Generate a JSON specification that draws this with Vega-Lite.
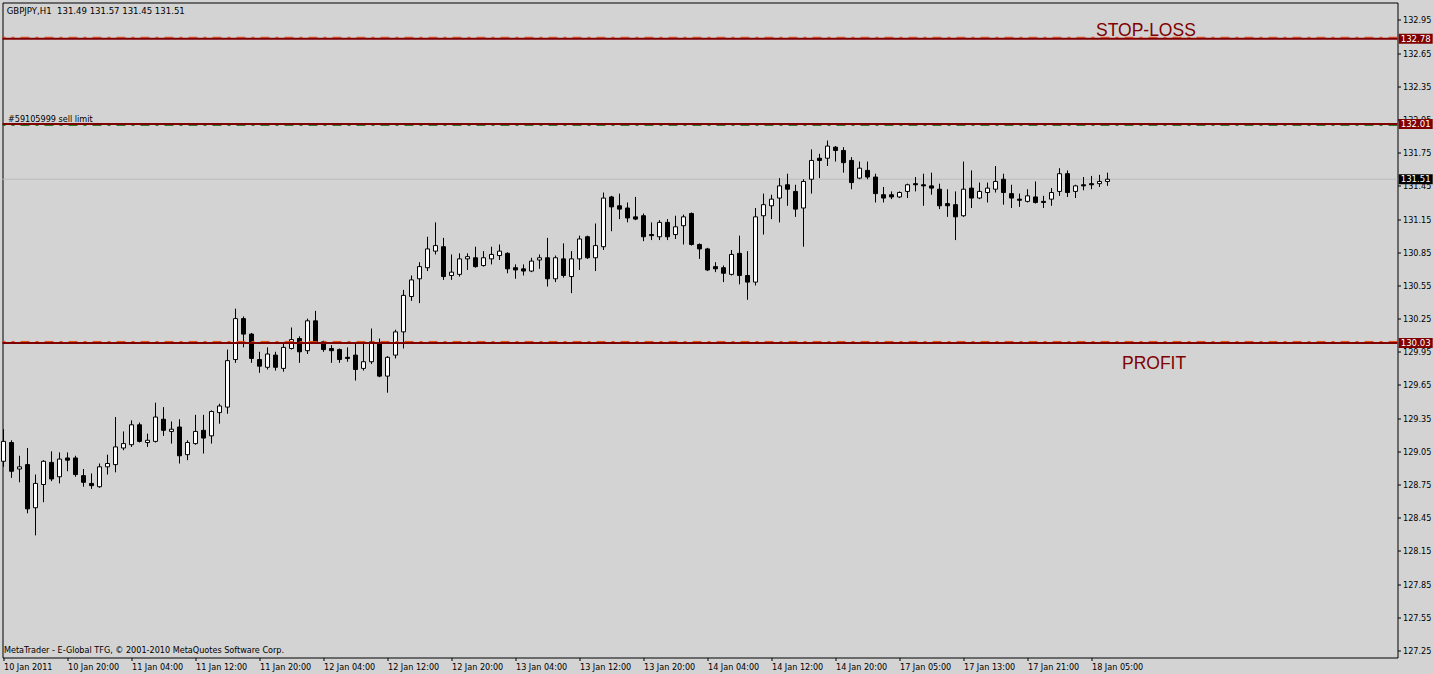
{
  "$schema": "https://vega.github.io/schema/vega-lite/v6.json",
  "autosize": "none",
  "width": 1395,
  "height": 655,
  "padding": {"left": 2.5, "top": 2.5, "right": 36.5, "bottom": 16.5},
  "background": "#d3d3d3",
  "config": {
    "view": {"stroke": "black", "strokeWidth": 1, "fill": "#d3d3d3"},
    "font": "DejaVu Sans Condensed, DejaVu Sans, sans-serif",
    "scale": {"continuousPadding": 0}
  },
  "resolve": {"axis": {"x": "independent", "y": "independent"}},
  "datasets": {
    "candles": [
      {"bar":0,"o":128.96,"h":129.25,"l":128.91,"c":129.14},
      {"bar":1,"o":129.13,"h":129.15,"l":128.81,"c":128.87},
      {"bar":2,"o":128.89,"h":129.01,"l":128.77,"c":128.91},
      {"bar":3,"o":128.93,"h":129.08,"l":128.49,"c":128.53},
      {"bar":4,"o":128.54,"h":128.84,"l":128.29,"c":128.76},
      {"bar":5,"o":128.75,"h":128.97,"l":128.59,"c":128.96},
      {"bar":6,"o":128.95,"h":129.05,"l":128.78,"c":128.80},
      {"bar":7,"o":128.82,"h":129.04,"l":128.76,"c":128.98},
      {"bar":8,"o":128.99,"h":129.04,"l":128.87,"c":128.97},
      {"bar":9,"o":128.99,"h":129.01,"l":128.82,"c":128.84},
      {"bar":10,"o":128.83,"h":128.89,"l":128.73,"c":128.77},
      {"bar":11,"o":128.76,"h":128.85,"l":128.71,"c":128.74},
      {"bar":12,"o":128.73,"h":128.94,"l":128.72,"c":128.91},
      {"bar":13,"o":128.91,"h":129.02,"l":128.84,"c":128.94},
      {"bar":14,"o":128.93,"h":129.36,"l":128.86,"c":129.09},
      {"bar":15,"o":129.08,"h":129.23,"l":129.06,"c":129.12},
      {"bar":16,"o":129.11,"h":129.33,"l":129.09,"c":129.29},
      {"bar":17,"o":129.29,"h":129.31,"l":129.13,"c":129.14},
      {"bar":18,"o":129.13,"h":129.21,"l":129.09,"c":129.15},
      {"bar":19,"o":129.14,"h":129.49,"l":129.13,"c":129.36},
      {"bar":20,"o":129.34,"h":129.45,"l":129.19,"c":129.24},
      {"bar":21,"o":129.23,"h":129.32,"l":129.12,"c":129.25},
      {"bar":22,"o":129.27,"h":129.34,"l":128.94,"c":129.01},
      {"bar":23,"o":129.02,"h":129.15,"l":128.97,"c":129.13},
      {"bar":24,"o":129.12,"h":129.38,"l":129.11,"c":129.23},
      {"bar":25,"o":129.24,"h":129.38,"l":129.03,"c":129.17},
      {"bar":26,"o":129.19,"h":129.42,"l":129.12,"c":129.41},
      {"bar":27,"o":129.40,"h":129.48,"l":129.30,"c":129.46},
      {"bar":28,"o":129.45,"h":129.97,"l":129.39,"c":129.87},
      {"bar":29,"o":129.88,"h":130.34,"l":129.85,"c":130.25},
      {"bar":30,"o":130.25,"h":130.27,"l":129.99,"c":130.11},
      {"bar":31,"o":130.11,"h":130.12,"l":129.85,"c":129.89},
      {"bar":32,"o":129.88,"h":129.95,"l":129.76,"c":129.82},
      {"bar":33,"o":129.81,"h":129.99,"l":129.79,"c":129.93},
      {"bar":34,"o":129.92,"h":129.95,"l":129.78,"c":129.81},
      {"bar":35,"o":129.80,"h":130.03,"l":129.77,"c":129.99},
      {"bar":36,"o":129.98,"h":130.17,"l":129.97,"c":130.06},
      {"bar":37,"o":130.07,"h":130.09,"l":129.85,"c":129.95},
      {"bar":38,"o":129.96,"h":130.25,"l":129.93,"c":130.23},
      {"bar":39,"o":130.23,"h":130.32,"l":130.03,"c":130.04},
      {"bar":40,"o":130.04,"h":130.05,"l":129.95,"c":129.97},
      {"bar":41,"o":129.98,"h":130.01,"l":129.85,"c":129.96},
      {"bar":42,"o":129.97,"h":129.98,"l":129.85,"c":129.88},
      {"bar":43,"o":129.90,"h":129.99,"l":129.86,"c":129.89},
      {"bar":44,"o":129.92,"h":130.03,"l":129.69,"c":129.79},
      {"bar":45,"o":129.80,"h":130.03,"l":129.78,"c":129.86},
      {"bar":46,"o":129.86,"h":130.16,"l":129.84,"c":130.04},
      {"bar":47,"o":130.03,"h":130.07,"l":129.72,"c":129.73},
      {"bar":48,"o":129.73,"h":129.91,"l":129.58,"c":129.90},
      {"bar":49,"o":129.92,"h":130.15,"l":129.89,"c":130.13},
      {"bar":50,"o":130.13,"h":130.51,"l":129.98,"c":130.46},
      {"bar":51,"o":130.45,"h":130.64,"l":130.41,"c":130.60},
      {"bar":52,"o":130.61,"h":130.76,"l":130.39,"c":130.72},
      {"bar":53,"o":130.71,"h":130.99,"l":130.68,"c":130.88},
      {"bar":54,"o":130.86,"h":131.12,"l":130.83,"c":130.91},
      {"bar":55,"o":130.90,"h":130.98,"l":130.60,"c":130.63},
      {"bar":56,"o":130.64,"h":130.83,"l":130.60,"c":130.67},
      {"bar":57,"o":130.65,"h":130.84,"l":130.63,"c":130.79},
      {"bar":58,"o":130.79,"h":130.84,"l":130.69,"c":130.81},
      {"bar":59,"o":130.80,"h":130.90,"l":130.71,"c":130.72},
      {"bar":60,"o":130.73,"h":130.86,"l":130.72,"c":130.80},
      {"bar":61,"o":130.79,"h":130.90,"l":130.74,"c":130.83},
      {"bar":62,"o":130.82,"h":130.92,"l":130.78,"c":130.86},
      {"bar":63,"o":130.84,"h":130.85,"l":130.66,"c":130.70},
      {"bar":64,"o":130.71,"h":130.74,"l":130.61,"c":130.69},
      {"bar":65,"o":130.70,"h":130.74,"l":130.64,"c":130.68},
      {"bar":66,"o":130.68,"h":130.80,"l":130.67,"c":130.77},
      {"bar":67,"o":130.78,"h":130.83,"l":130.70,"c":130.80},
      {"bar":68,"o":130.80,"h":130.98,"l":130.54,"c":130.61},
      {"bar":69,"o":130.61,"h":130.82,"l":130.58,"c":130.80},
      {"bar":70,"o":130.79,"h":130.93,"l":130.62,"c":130.64},
      {"bar":71,"o":130.63,"h":130.86,"l":130.48,"c":130.79},
      {"bar":72,"o":130.79,"h":131.00,"l":130.69,"c":130.97},
      {"bar":73,"o":130.99,"h":131.00,"l":130.79,"c":130.80},
      {"bar":74,"o":130.80,"h":131.11,"l":130.68,"c":130.91},
      {"bar":75,"o":130.90,"h":131.39,"l":130.87,"c":131.34},
      {"bar":76,"o":131.35,"h":131.36,"l":131.04,"c":131.26},
      {"bar":77,"o":131.27,"h":131.38,"l":131.15,"c":131.24},
      {"bar":78,"o":131.25,"h":131.30,"l":131.12,"c":131.16},
      {"bar":79,"o":131.17,"h":131.35,"l":131.14,"c":131.15},
      {"bar":80,"o":131.18,"h":131.20,"l":130.95,"c":130.99},
      {"bar":81,"o":131.01,"h":131.12,"l":130.96,"c":131.00},
      {"bar":82,"o":130.99,"h":131.14,"l":130.96,"c":131.12},
      {"bar":83,"o":131.12,"h":131.15,"l":130.96,"c":130.99},
      {"bar":84,"o":131.01,"h":131.18,"l":130.97,"c":131.08},
      {"bar":85,"o":131.09,"h":131.19,"l":130.92,"c":131.17},
      {"bar":86,"o":131.20,"h":131.21,"l":130.91,"c":130.92},
      {"bar":87,"o":130.92,"h":130.93,"l":130.79,"c":130.88},
      {"bar":88,"o":130.88,"h":130.89,"l":130.68,"c":130.69},
      {"bar":89,"o":130.72,"h":130.76,"l":130.67,"c":130.70},
      {"bar":90,"o":130.71,"h":130.73,"l":130.58,"c":130.66},
      {"bar":91,"o":130.65,"h":130.87,"l":130.64,"c":130.83},
      {"bar":92,"o":130.84,"h":131.00,"l":130.56,"c":130.64},
      {"bar":93,"o":130.64,"h":130.86,"l":130.42,"c":130.58},
      {"bar":94,"o":130.58,"h":131.25,"l":130.55,"c":131.17},
      {"bar":95,"o":131.18,"h":131.38,"l":131.01,"c":131.28},
      {"bar":96,"o":131.27,"h":131.37,"l":131.15,"c":131.33},
      {"bar":97,"o":131.34,"h":131.52,"l":131.12,"c":131.45},
      {"bar":98,"o":131.46,"h":131.56,"l":131.27,"c":131.42},
      {"bar":99,"o":131.40,"h":131.46,"l":131.17,"c":131.24},
      {"bar":100,"o":131.25,"h":131.51,"l":130.90,"c":131.49},
      {"bar":101,"o":131.51,"h":131.78,"l":131.38,"c":131.68},
      {"bar":102,"o":131.70,"h":131.74,"l":131.52,"c":131.68},
      {"bar":103,"o":131.70,"h":131.86,"l":131.63,"c":131.81},
      {"bar":104,"o":131.80,"h":131.81,"l":131.67,"c":131.77},
      {"bar":105,"o":131.77,"h":131.80,"l":131.57,"c":131.66},
      {"bar":106,"o":131.68,"h":131.71,"l":131.42,"c":131.48},
      {"bar":107,"o":131.52,"h":131.67,"l":131.51,"c":131.61},
      {"bar":108,"o":131.59,"h":131.67,"l":131.51,"c":131.53},
      {"bar":109,"o":131.53,"h":131.56,"l":131.30,"c":131.38},
      {"bar":110,"o":131.37,"h":131.44,"l":131.30,"c":131.34},
      {"bar":111,"o":131.37,"h":131.40,"l":131.33,"c":131.35},
      {"bar":112,"o":131.35,"h":131.40,"l":131.34,"c":131.39},
      {"bar":113,"o":131.40,"h":131.47,"l":131.34,"c":131.46},
      {"bar":114,"o":131.47,"h":131.53,"l":131.40,"c":131.46},
      {"bar":115,"o":131.46,"h":131.56,"l":131.27,"c":131.45},
      {"bar":116,"o":131.45,"h":131.57,"l":131.37,"c":131.43},
      {"bar":117,"o":131.42,"h":131.47,"l":131.24,"c":131.27},
      {"bar":118,"o":131.29,"h":131.42,"l":131.17,"c":131.27},
      {"bar":119,"o":131.28,"h":131.40,"l":130.96,"c":131.17},
      {"bar":120,"o":131.18,"h":131.67,"l":131.17,"c":131.42},
      {"bar":121,"o":131.43,"h":131.59,"l":131.25,"c":131.34},
      {"bar":122,"o":131.34,"h":131.48,"l":131.33,"c":131.40},
      {"bar":123,"o":131.39,"h":131.48,"l":131.30,"c":131.43},
      {"bar":124,"o":131.42,"h":131.63,"l":131.39,"c":131.49},
      {"bar":125,"o":131.51,"h":131.56,"l":131.28,"c":131.39},
      {"bar":126,"o":131.38,"h":131.46,"l":131.25,"c":131.34},
      {"bar":127,"o":131.33,"h":131.38,"l":131.26,"c":131.32},
      {"bar":128,"o":131.31,"h":131.42,"l":131.30,"c":131.36},
      {"bar":129,"o":131.35,"h":131.49,"l":131.29,"c":131.30},
      {"bar":130,"o":131.31,"h":131.36,"l":131.25,"c":131.30},
      {"bar":131,"o":131.33,"h":131.43,"l":131.27,"c":131.39},
      {"bar":132,"o":131.40,"h":131.61,"l":131.36,"c":131.56},
      {"bar":133,"o":131.56,"h":131.59,"l":131.35,"c":131.39},
      {"bar":134,"o":131.40,"h":131.46,"l":131.34,"c":131.45},
      {"bar":135,"o":131.46,"h":131.53,"l":131.41,"c":131.45},
      {"bar":136,"o":131.47,"h":131.54,"l":131.42,"c":131.46},
      {"bar":137,"o":131.47,"h":131.55,"l":131.44,"c":131.49},
      {"bar":138,"o":131.49,"h":131.57,"l":131.45,"c":131.51}
    ],
    "levels": [
      {"price": 132.78, "kind": "stop", "label": "STOP-LOSS"},
      {"price": 132.01, "kind": "order", "label": "#59105999 sell limit"},
      {"price": 130.03, "kind": "profit", "label": "PROFIT"}
    ],
    "notes": [
      {"kind": "header", "label": "GBPJPY,H1\u00a0 131.49 131.57 131.45 131.51"},
      {"kind": "credit", "label": "MetaTrader - E-Global TFG, © 2001-2010 MetaQuotes Software Corp."}
    ]
  },
  "layer": [
    {
      "data": {"name": "candles"},
      "transform": [{"filter": "datum.bar == 138"}],
      "mark": {"type": "rule", "color": "#bcbcbc", "strokeWidth": 1},
      "encoding": {
        "y": {"field": "c", "type": "quantitative", "scale": {"domain": [127.186, 133.108], "nice": false, "zero": false, "padding": 0}, "axis": null}
      }
    },
    {
      "data": {"name": "candles"},
      "mark": {"type": "rule", "color": "black", "strokeWidth": 1},
      "encoding": {
        "x": {"field": "bar", "type": "quantitative", "scale": {"domain": [-0.125, 174.25], "nice": false, "zero": false, "padding": 0}, "axis": null},
        "y": {"field": "l", "type": "quantitative", "scale": {"domain": [127.186, 133.108], "nice": false, "zero": false, "padding": 0}, "axis": null},
        "y2": {"field": "h"}
      }
    },
    {
      "data": {"name": "candles"},
      "mark": {"type": "bar", "size": 4, "stroke": "black", "strokeWidth": 1, "opacity": 1},
      "encoding": {
        "x": {"field": "bar", "type": "quantitative", "scale": {"domain": [-0.125, 174.25], "nice": false, "zero": false, "padding": 0},
          "axis": {"orient": "bottom", "values": [0,8,16,24,32,40,48,56,64,72,80,88,96,104,112,120,128,136],
            "labelExpr": "['10 Jan 2011','10 Jan 20:00','11 Jan 04:00','11 Jan 12:00','11 Jan 20:00','12 Jan 04:00','12 Jan 12:00','12 Jan 20:00','13 Jan 04:00','13 Jan 12:00','13 Jan 20:00','14 Jan 04:00','14 Jan 12:00','14 Jan 20:00','17 Jan 05:00','17 Jan 13:00','17 Jan 21:00','18 Jan 05:00'][round(datum.value/8)]",
            "title": null, "grid": false, "domain": false, "ticks": true, "tickSize": 3, "tickColor": "black", "tickWidth": 1,
            "labelAlign": "left", "labelBaseline": "alphabetic", "labelPadding": 8.5,
            "labelFont": "DejaVu Sans Condensed, DejaVu Sans, sans-serif", "labelFontSize": 9, "labelColor": "black",
            "labelOverlap": false, "labelFlush": false, "labelBound": false}},
        "y": {"field": "o", "type": "quantitative", "scale": {"domain": [127.186, 133.108], "nice": false, "zero": false, "padding": 0},
          "axis": {"orient": "right", "values": [127.25,127.55,127.85,128.15,128.45,128.75,129.05,129.35,129.65,129.95,130.25,130.55,130.85,131.15,131.45,131.75,132.05,132.35,132.65,132.95],
            "format": ".2f", "title": null, "grid": false, "domain": false, "ticks": true, "tickSize": 3, "tickColor": "black", "tickWidth": 1,
            "labelAlign": "left", "labelBaseline": "middle", "labelPadding": 2,
            "labelFont": "DejaVu Sans Condensed, DejaVu Sans, sans-serif", "labelFontSize": 9, "labelColor": "black",
            "labelOverlap": false, "labelBound": false}},
        "y2": {"field": "c"},
        "fill": {"condition": {"test": "datum.c > datum.o", "value": "white"}, "value": "black"}
      }
    },
    {
      "data": {"name": "levels"},
      "transform": [{"filter": "datum.kind != 'order'"}],
      "mark": {"type": "rule", "color": "#e8440c", "strokeWidth": 1, "strokeDash": [9, 6, 3, 6], "yOffset": -1.5},
      "encoding": {
        "y": {"field": "price", "type": "quantitative", "scale": {"domain": [127.186, 133.108], "nice": false, "zero": false, "padding": 0}, "axis": null}
      }
    },
    {
      "data": {"name": "levels"},
      "transform": [{"filter": "datum.kind == 'order'"}],
      "mark": {"type": "rule", "color": "#1a7a1a", "strokeWidth": 1, "strokeDash": [9, 6, 3, 6], "yOffset": 1.5},
      "encoding": {
        "y": {"field": "price", "type": "quantitative", "scale": {"domain": [127.186, 133.108], "nice": false, "zero": false, "padding": 0}, "axis": null}
      }
    },
    {
      "data": {"name": "levels"},
      "mark": {"type": "rule", "color": "#800000", "strokeWidth": 2},
      "encoding": {
        "y": {"field": "price", "type": "quantitative", "scale": {"domain": [127.186, 133.108], "nice": false, "zero": false, "padding": 0}, "axis": null}
      }
    },
    {
      "data": {"name": "levels"},
      "transform": [{"filter": "datum.kind == 'stop'"}],
      "mark": {"type": "text", "font": "Liberation Sans", "fontSize": 17.5, "color": "#800000", "align": "left", "baseline": "alphabetic", "dy": -3},
      "encoding": {
        "x": {"datum": 136.56, "type": "quantitative", "scale": {"domain": [-0.125, 174.25], "nice": false, "zero": false, "padding": 0}, "axis": null},
        "y": {"field": "price", "type": "quantitative", "scale": {"domain": [127.186, 133.108], "nice": false, "zero": false, "padding": 0}, "axis": null},
        "text": {"field": "label"}
      }
    },
    {
      "data": {"name": "levels"},
      "transform": [{"filter": "datum.kind == 'profit'"}],
      "mark": {"type": "text", "font": "Liberation Sans", "fontSize": 17.5, "color": "#800000", "align": "left", "baseline": "alphabetic", "dy": 26.5},
      "encoding": {
        "x": {"datum": 139.81, "type": "quantitative", "scale": {"domain": [-0.125, 174.25], "nice": false, "zero": false, "padding": 0}, "axis": null},
        "y": {"field": "price", "type": "quantitative", "scale": {"domain": [127.186, 133.108], "nice": false, "zero": false, "padding": 0}, "axis": null},
        "text": {"field": "label"}
      }
    },
    {
      "data": {"name": "levels"},
      "transform": [{"filter": "datum.kind == 'order'"}],
      "mark": {"type": "text", "fontSize": 9, "color": "black", "align": "left", "baseline": "alphabetic", "dy": -2},
      "encoding": {
        "x": {"datum": 0.56, "type": "quantitative", "scale": {"domain": [-0.125, 174.25], "nice": false, "zero": false, "padding": 0}, "axis": null},
        "y": {"field": "price", "type": "quantitative", "scale": {"domain": [127.186, 133.108], "nice": false, "zero": false, "padding": 0}, "axis": null},
        "text": {"field": "label"}
      }
    },
    {
      "data": {"name": "notes"},
      "transform": [{"filter": "datum.kind == 'header'"}],
      "mark": {"type": "text", "fontSize": 9.5, "color": "black", "align": "left", "baseline": "alphabetic"},
      "encoding": {
        "x": {"datum": 0.4, "type": "quantitative", "scale": {"domain": [-0.125, 174.25], "nice": false, "zero": false, "padding": 0}, "axis": null},
        "y": {"datum": 133.004, "type": "quantitative", "scale": {"domain": [127.186, 133.108], "nice": false, "zero": false, "padding": 0}, "axis": null},
        "text": {"field": "label"}
      }
    },
    {
      "data": {"name": "notes"},
      "transform": [{"filter": "datum.kind == 'credit'"}],
      "mark": {"type": "text", "fontSize": 9, "color": "black", "align": "left", "baseline": "alphabetic"},
      "encoding": {
        "x": {"datum": 0.06, "type": "quantitative", "scale": {"domain": [-0.125, 174.25], "nice": false, "zero": false, "padding": 0}, "axis": null},
        "y": {"datum": 127.227, "type": "quantitative", "scale": {"domain": [127.186, 133.108], "nice": false, "zero": false, "padding": 0}, "axis": null},
        "text": {"field": "label"}
      }
    },
    {
      "data": {"name": "levels"},
      "mark": {"type": "tick", "orient": "horizontal", "size": 34, "thickness": 10, "color": "#800000", "opacity": 1},
      "encoding": {
        "x": {"datum": 176.525, "type": "quantitative", "scale": {"domain": [-0.125, 174.25], "nice": false, "zero": false, "padding": 0}, "axis": null},
        "y": {"field": "price", "type": "quantitative", "scale": {"domain": [127.186, 133.108], "nice": false, "zero": false, "padding": 0}, "axis": null}
      }
    },
    {
      "data": {"name": "levels"},
      "mark": {"type": "text", "fontSize": 9.5, "color": "white", "align": "center", "baseline": "middle"},
      "encoding": {
        "x": {"datum": 176.525, "type": "quantitative", "scale": {"domain": [-0.125, 174.25], "nice": false, "zero": false, "padding": 0}, "axis": null},
        "y": {"field": "price", "type": "quantitative", "scale": {"domain": [127.186, 133.108], "nice": false, "zero": false, "padding": 0}, "axis": null},
        "text": {"field": "price", "type": "quantitative", "format": ".2f"}
      }
    },
    {
      "data": {"name": "candles"},
      "transform": [{"filter": "datum.bar == 138"}],
      "mark": {"type": "tick", "orient": "horizontal", "size": 34, "thickness": 10, "color": "black", "opacity": 1},
      "encoding": {
        "x": {"datum": 176.525, "type": "quantitative", "scale": {"domain": [-0.125, 174.25], "nice": false, "zero": false, "padding": 0}, "axis": null},
        "y": {"field": "c", "type": "quantitative", "scale": {"domain": [127.186, 133.108], "nice": false, "zero": false, "padding": 0}, "axis": null}
      }
    },
    {
      "data": {"name": "candles"},
      "transform": [{"filter": "datum.bar == 138"}],
      "mark": {"type": "text", "fontSize": 9.5, "color": "white", "align": "center", "baseline": "middle"},
      "encoding": {
        "x": {"datum": 176.525, "type": "quantitative", "scale": {"domain": [-0.125, 174.25], "nice": false, "zero": false, "padding": 0}, "axis": null},
        "y": {"field": "c", "type": "quantitative", "scale": {"domain": [127.186, 133.108], "nice": false, "zero": false, "padding": 0}, "axis": null},
        "text": {"field": "c", "type": "quantitative", "format": ".2f"}
      }
    }
  ]
}
